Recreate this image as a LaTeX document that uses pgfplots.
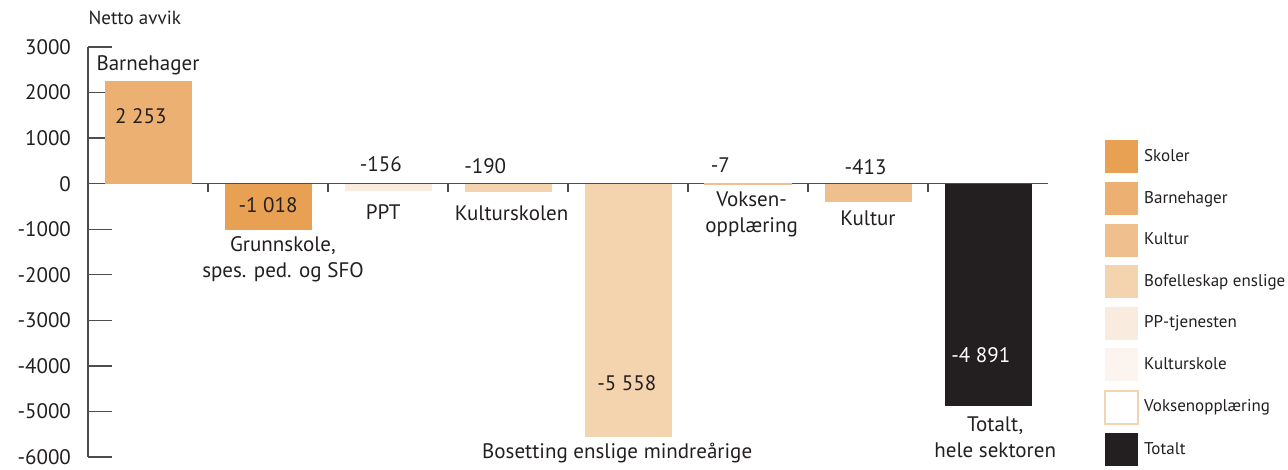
\documentclass[border=0pt]{standalone}
\usepackage{fontspec}
\setmainfont{PT Sans}
\usepackage{pgfplots}
\pgfplotsset{compat=1.18}
\definecolor{skoler}{HTML}{E8A153}
\definecolor{barnehager}{HTML}{ECB172}
\definecolor{kultur}{HTML}{EFBF8D}
\definecolor{bofelle}{HTML}{F4D3AF}
\definecolor{pptj}{HTML}{F9EBDD}
\definecolor{kskole}{HTML}{FCF4EE}
\definecolor{totalt}{HTML}{231F20}
\definecolor{txt}{HTML}{231F20}
\definecolor{axisgray}{HTML}{4D4D4D}
\begin{document}
\begin{tikzpicture}
\useasboundingbox (-44pt,-6.5pt) rectangle (600pt,228.5pt);
\begin{axis}[
  at={(0,0)}, anchor=south west,
  scale only axis,
  width=480pt, height=205pt,
  xmin=-0.5, xmax=7.5,
  ymin=-6000, ymax=3000,
  axis y line=left,
  axis x line*=middle,
  axis line style={-, draw=axisgray, line width=0.7pt},
  ytick={-6000,-5000,...,3000},
  xtick=\empty,
  major tick length=12pt,
  tick align=inside,
  ytick style={draw=axisgray, line width=0.7pt},
  yticklabel style={font=\fontsize{10.5}{12}\selectfont, text=txt, anchor=east, xshift=-5pt},
  /pgf/number format/1000 sep={},
  /pgf/number format/assume math mode=true,
  clip=false,
  legend style={at={(1,1)}, anchor=north west, xshift=28pt, yshift=-46.5pt,
    draw=none, fill=none, inner sep=0pt, row sep=4.3pt,
    font=\fontsize{8.5}{10}\selectfont, text=txt,
    nodes={inner sep=2.5pt}},
  legend cell align=left,
  legend image code/.code={\path[#1] (0pt,-8.25pt) rectangle (16.5pt,8.25pt);},
]
% bars
\addplot[ybar, bar width=43.5pt, fill=barnehager, draw=none, forget plot] coordinates {(0,2253)};
\addplot[ybar, bar width=43.5pt, fill=skoler, draw=none, forget plot] coordinates {(1,-1018)};
\addplot[ybar, bar width=43.5pt, fill=pptj, draw=none, forget plot] coordinates {(2,-156)};
\addplot[ybar, bar width=43.5pt, fill=bofelle, draw=none, forget plot] coordinates {(3,-190)};
\addplot[ybar, bar width=43.5pt, fill=bofelle, draw=none, forget plot] coordinates {(4,-5558)};
\addplot[ybar, bar width=43.5pt, fill=kultur, draw=kultur, line width=0.4pt, forget plot] coordinates {(5,-7)};
\addplot[ybar, bar width=43.5pt, fill=kultur, draw=none, forget plot] coordinates {(6,-413)};
\addplot[ybar, bar width=43.5pt, fill=totalt, draw=none, forget plot] coordinates {(7,-4891)};
% x ticks between categories
\pgfplotsinvokeforeach{0.5,1.5,2.5,3.5,4.5,5.5,6.5}{
  \draw[axisgray, line width=0.7pt] (axis cs:#1,0) -- ([yshift=-4pt]axis cs:#1,0);
}
% legend
\addlegendimage{fill=skoler, draw=none}\addlegendentry{Skoler}
\addlegendimage{fill=barnehager, draw=none}\addlegendentry{Barnehager}
\addlegendimage{fill=kultur, draw=none}\addlegendentry{Kultur}
\addlegendimage{fill=bofelle, draw=none}\addlegendentry{Bofelleskap enslige}
\addlegendimage{fill=pptj, draw=none}\addlegendentry{PP-tjenesten}
\addlegendimage{fill=kskole, draw=none}\addlegendentry{Kulturskole}
\addlegendimage{fill=white, draw=bofelle, line width=0.9pt}\addlegendentry{Voksenopplæring}
\addlegendimage{fill=totalt, draw=none}\addlegendentry{Totalt}
% labels
\begin{scope}[every node/.style={font=\fontsize{10.5}{13}\selectfont, text=txt, align=center}]
\node at (axis cs:-0.11,3637) {\fontsize{9.5}{11}\selectfont Netto avvik};
\node at (axis cs:0,2605) {Barnehager};
\node at (axis cs:-0.06,1486) {2 253};
\node at (axis cs:1,-467) {-1 018};
\node at (axis cs:1.125,-1653) {Grunnskole,\\spes. ped. og SFO};
\node at (axis cs:1.94,433) {-156};
\node at (axis cs:1.96,-621) {PPT};
\node at (axis cs:2.81,389) {-190};
\node at (axis cs:3.03,-643) {Kulturskolen};
\node at (axis cs:3.99,-4375) {-5 558};
\node at (axis cs:3.91,-5911) {Bosetting enslige mindreårige};
\node at (axis cs:4.77,410) {-7};
\node at (axis cs:5.03,-669) {Voksen-\\opplæring};
\node at (axis cs:5.98,367) {-413};
\node at (axis cs:6,-753) {Kultur};
\node[text=white] at (axis cs:6.94,-3760) {-4 891};
\node at (axis cs:7.06,-5565) {Totalt,\\hele sektoren};
\end{scope}
\end{axis}
\end{tikzpicture}
\end{document}
